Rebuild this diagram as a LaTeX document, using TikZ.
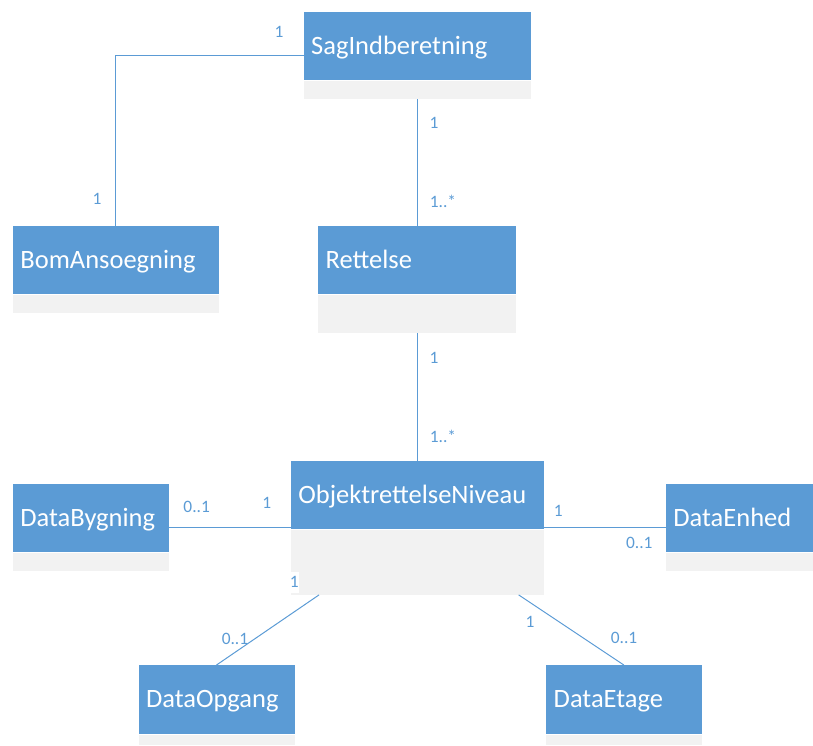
\documentclass[tikz,border=0pt]{standalone}
\usepackage{fontspec}
\setmainfont{Carlito}
\usetikzlibrary{calc}
\definecolor{hblue}{HTML}{5B9BD5}
\definecolor{cgray}{HTML}{F2F2F2}
\definecolor{lblue}{HTML}{5B9BD5}
\tikzset{
  hdr/.style={fill=hblue, text=white, draw=none, anchor=north west, inner xsep=7.5pt, inner ysep=0pt,
    align=left, text height=17pt, text depth=0pt, font=\fontsize{26.5}{30}\selectfont},
  cmp/.style={fill=cgray, draw=none, anchor=north west, inner sep=0pt},
  conn/.style={draw=lblue, line width=1pt},
  mult/.style={text=lblue, inner sep=0pt, anchor=center, font=\fontsize{17.4}{19}\selectfont}
}
\begin{document}
\begin{tikzpicture}[x=1pt, y=-1pt]
\useasboundingbox (0,0) rectangle (813,745);
% classes
\node[hdr, text width=212pt, minimum height=68.3pt] (sag) at (303.5,11.7) {SagIndberetning};
\node[cmp, minimum width=227pt, minimum height=18pt] (sagc) at (303.5,81) {};
\node[hdr, text width=190.6pt, minimum height=68pt] (bom) at (12.7,226) {BomAnsoegning};
\node[cmp, minimum width=205.6pt, minimum height=18pt] (bomc) at (12.7,295) {};
\node[hdr, text width=183pt, minimum height=68pt] (ret) at (318,226) {Rettelse};
\node[cmp, minimum width=198pt, minimum height=38pt] (retc) at (318,295) {};
\node[hdr, text width=237.6pt, minimum height=68.3pt] (obj) at (290.7,460.7) {ObjektrettelseNiveau};
\node[cmp, minimum width=252.6pt, minimum height=64.5pt] (objc) at (290.7,530) {};
\node[hdr, text width=140.6pt, minimum height=68pt] (byg) at (12.7,484) {DataBygning};
\node[cmp, minimum width=155.6pt, minimum height=18pt] (bygc) at (12.7,553) {};
\node[hdr, text width=132.3pt, minimum height=68pt] (enh) at (665.7,484) {DataEnhed};
\node[cmp, minimum width=147.3pt, minimum height=18pt] (enhc) at (665.7,553) {};
\node[hdr, text width=141pt, minimum height=68.3pt] (opg) at (138.3,665) {DataOpgang};
\node[cmp, minimum width=156pt, minimum height=10.7pt] (opgc) at (138.3,734.3) {};
\node[hdr, text width=140.3pt, minimum height=68.3pt] (eta) at (546,665) {DataEtage};
\node[cmp, minimum width=155.3pt, minimum height=10.7pt] (etac) at (546,734.3) {};
% connectors
\coordinate (sagL) at ($(sag.north west)+(0,43.3)$);
\draw[conn] (sagL) -| (bom.north);
\draw[conn] (sagc.south) -- (ret.north);
\draw[conn] (retc.south) -- (obj.north);
\coordinate (objL) at ($(obj.south west)+(0,-1.5)$);
\coordinate (objR) at ($(obj.south east)+(0,-1.5)$);
\draw[conn] (objL) -- (objL -| byg.east);
\draw[conn] (objR) -- (objR -| enh.west);
\coordinate (objBL) at ($(objc.south west)+(28.3,0)$);
\coordinate (objBR) at ($(objc.south east)+(-25,0)$);
\draw[conn] (objBL) -- (opg.north);
\draw[conn] (objBR) -- (eta.north);
% multiplicities
\node[mult] (m1) at (279,32) {1};
\node[mult] (m2) at (97,199) {1};
\node[mult] (m3) at (434,123) {1};
\node[mult] (m4) at (443,201) {1..*};
\node[mult] (m5) at (434,357.7) {1};
\node[mult] (m6) at (443,436.7) {1..*};
\node[mult] (m7) at (196.7,506.7) {0..1};
\node[mult] (m8) at (266.7,503) {1};
\node[mult] (m9) at (558.3,510.7) {1};
\node[mult] (m10) at (639.3,542.7) {0..1};
\node[mult, fill=white, inner xsep=0.5pt, inner ysep=5pt] (m11) at (294.3,582.3) {1};
\node[mult] (m12) at (235,639) {0..1};
\node[mult] (m13) at (530,622.3) {1};
\node[mult] (m14) at (624,637.7) {0..1};
\end{tikzpicture}
\end{document}
